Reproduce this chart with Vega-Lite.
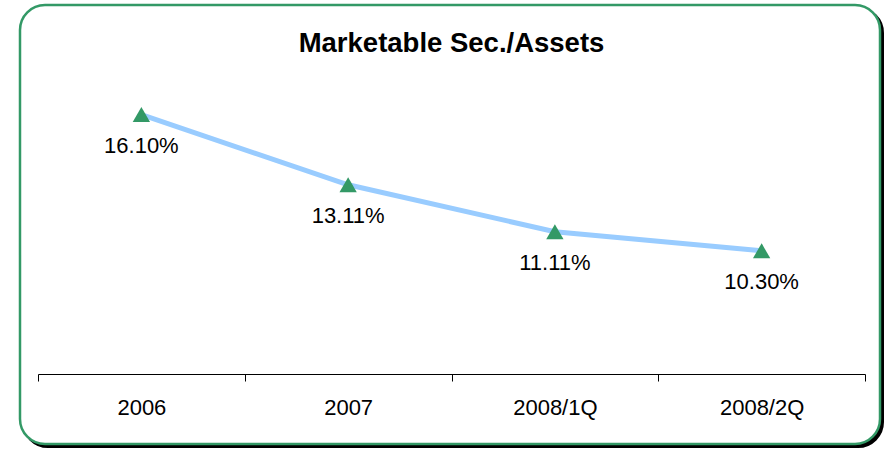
{
  "$schema": "https://vega.github.io/schema/vega-lite/v6.json",
  "autosize": "none",
  "width": 827,
  "height": 304,
  "padding": {"left": 38, "top": 70, "right": 21, "bottom": 76},
  "background": "white",
  "config": {
    "font": "Liberation Sans",
    "view": {"stroke": null}
  },
  "title": {
    "text": "Marketable Sec./Assets",
    "font": "Liberation Sans",
    "fontSize": 27.5,
    "fontWeight": "bold",
    "color": "black",
    "anchor": "middle",
    "baseline": "alphabetic",
    "offset": -76,
    "zindex": 1
  },
  "data": {
    "values": [
      {"period": "2006", "ratio": 16.10, "label": "16.10%"},
      {"period": "2007", "ratio": 13.11, "label": "13.11%"},
      {"period": "2008/1Q", "ratio": 11.11, "label": "11.11%"},
      {"period": "2008/2Q", "ratio": 10.30, "label": "10.30%"}
    ]
  },
  "layer": [
    {
      "data": {"values": [{}]},
      "mark": {"type": "rect", "fill": "black", "stroke": "black", "strokeWidth": 2, "cornerRadius": 25, "clip": false},
      "encoding": {
        "x": {"value": -15},
        "x2": {"value": 845},
        "y": {"value": -62},
        "y2": {"value": 377}
      }
    },
    {
      "data": {"values": [{}]},
      "mark": {"type": "rect", "fill": "white", "stroke": "#339966", "strokeWidth": 2.5, "cornerRadius": 25, "clip": false},
      "encoding": {
        "x": {"value": -18},
        "x2": {"value": 842},
        "y": {"value": -65},
        "y2": {"value": 374}
      }
    },
    {
      "mark": {"type": "line", "color": "#99CCFF", "strokeWidth": 5},
      "encoding": {
        "x": {
          "field": "period", "type": "nominal", "sort": null,
          "scale": {"paddingInner": 0, "paddingOuter": 0},
          "axis": {
            "title": null,
            "zindex": 1,
            "labelAngle": 0,
            "labelFont": "Liberation Sans",
            "labelFontSize": 22,
            "labelColor": "black",
            "labelBaseline": "alphabetic",
            "labelPadding": 33,
            "tickBand": "extent",
            "tickSize": 7,
            "tickColor": "black",
            "tickWidth": 1,
            "domainColor": "black",
            "domainWidth": 1,
            "grid": false
          }
        },
        "y": {
          "field": "ratio", "type": "quantitative",
          "scale": {"domain": [5.05, 18.0], "nice": false, "zero": false},
          "axis": null
        }
      }
    },
    {
      "mark": {"type": "point", "shape": "triangle-up", "filled": true, "color": "#339966", "size": 300, "opacity": 1},
      "encoding": {
        "x": {"field": "period", "type": "nominal", "sort": null},
        "y": {"field": "ratio", "type": "quantitative"}
      }
    },
    {
      "mark": {"type": "text", "font": "Liberation Sans", "fontSize": 22, "color": "black", "baseline": "alphabetic", "align": "center", "dy": 38},
      "encoding": {
        "x": {"field": "period", "type": "nominal", "sort": null},
        "y": {"field": "ratio", "type": "quantitative"},
        "text": {"field": "label"}
      }
    }
  ]
}
